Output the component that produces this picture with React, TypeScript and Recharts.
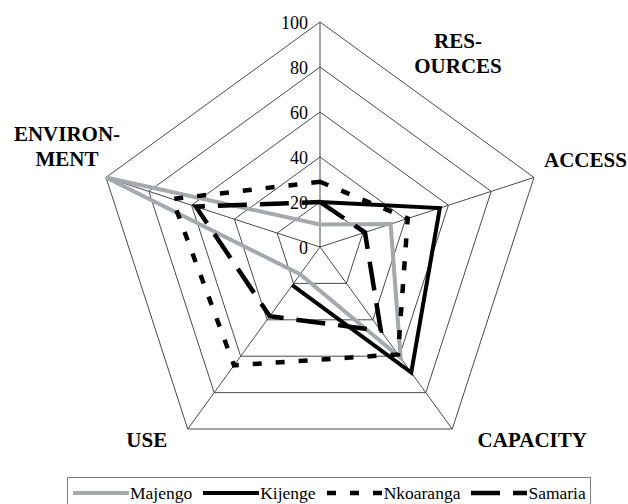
import React from 'react'
import {
  RadarChart,
  Radar,
  PolarGrid,
  PolarAngleAxis,
  PolarRadiusAxis,
  Legend
} from 'recharts'

const categories = ['RESOURCES', 'ACCESS', 'CAPACITY', 'USE', 'ENVIRONMENT']
const categoryLines = [['RES-', 'OURCES'], ['ACCESS'], ['CAPACITY'], ['USE'], ['ENVIRON-', 'MENT']]
const majengo = [10, 33, 61, 15, 100]
const kijenge: (number | null)[] = [20, 56, 69, 21, null] // no ENVIRONMENT value
const nkoaranga = [29, 41, 59, 65, 69]
const samaria = [20, 21, 46, 38, 58]
const radiusTicks = [0, 20, 40, 60, 80, 100]

const data = categories.map((c, i) => ({
  category: c,
  Majengo: majengo[i],
  Kijenge: kijenge[i],
  Nkoaranga: nkoaranga[i],
  Samaria: samaria[i]
}))

const series = [
  { key: 'Majengo', stroke: '#A5A8AC', width: 4, dash: undefined },
  { key: 'Kijenge', stroke: '#000', width: 4, dash: undefined },
  { key: 'Nkoaranga', stroke: '#000', width: 4.5, dash: '9 14' },
  { key: 'Samaria', stroke: '#000', width: 4.5, dash: '29 13' }
]

const serif = '"Liberation Serif", "Times New Roman", serif'

// where Excel put the category labels, relative to each vertex
const labelPlace = [
  { dx: 138, dy: [26, 51], anchor: 'middle' },
  { dx: 10, dy: [-10], anchor: 'start' },
  { dx: 80, dy: [18], anchor: 'middle' },
  { dx: -41, dy: [18], anchor: 'middle' },
  { dx: -39, dy: [-36, -11], anchor: 'middle' }
]

const AngleTick = ({ x, y, payload }: any) => {
  const i = categories.indexOf(payload.value)
  const place = labelPlace[i]
  return (
    <g>
      {categoryLines[i].map((line, k) => (
        <text
          key={k}
          x={x + place.dx}
          y={y + place.dy[k]}
          textAnchor={place.anchor as any}
          fontFamily={serif}
          fontWeight="bold"
          fontSize={21}
          fill="#000"
        >
          {line}
        </text>
      ))}
    </g>
  )
}

const RadiusTick = ({ x, y, payload }: any) => (
  <text x={x - 12} y={y + 7} textAnchor="end" fontFamily={serif} fontSize={18} fill="#000">
    {payload.value}
  </text>
)

// open polyline that leaves a gap where a value is missing
const linePath = (points: any[]) => {
  const ok = points.map(
    p => p.value != null && Number.isFinite(p.x) && Number.isFinite(p.y)
  )
  if (ok.every(Boolean)) {
    return points.map((p, i) => `${i ? 'L' : 'M'}${p.x},${p.y}`).join('') + 'Z'
  }
  const n = points.length
  const firstBad = ok.indexOf(false)
  let d = ''
  let pen = false
  for (let k = 1; k <= n; k++) {
    const i = (firstBad + k) % n
    if (!ok[i]) {
      pen = false
      continue
    }
    d += `${pen ? 'L' : 'M'}${points[i].x},${points[i].y}`
    pen = true
  }
  return d
}

const LegendBox = () => (
  <div
    style={{
      boxSizing: 'border-box',
      width: 524,
      height: 28,
      border: '1px solid #808080',
      borderBottom: 'none',
      paddingLeft: 5,
      paddingTop: 5,
      display: 'flex',
      alignItems: 'flex-start',
      gap: 11,
      fontFamily: serif,
      fontSize: 17.5,
      lineHeight: '20px',
      color: '#000'
    }}
  >
    {series.map(s => (
      <div key={s.key} style={{ display: 'flex', alignItems: 'center', height: 20 }}>
        <svg width={56} height={10} style={{ display: 'block' }}>
          <line
            x1={0}
            y1={5}
            x2={56}
            y2={5}
            stroke={s.stroke}
            strokeWidth={s.width}
            strokeDasharray={s.dash}
          />
        </svg>
        <span style={{ marginLeft: 1 }}>{s.key}</span>
      </div>
    ))}
  </div>
)

export default function App() {
  return (
    <div style={{ position: 'absolute', left: 0, top: 0, width: 628, height: 504, overflow: 'hidden', background: '#fff' }}>
      <RadarChart
        width={628}
        height={504}
        data={data}
        cx={320}
        cy={247}
        outerRadius={225}
        margin={{ top: 0, right: 0, bottom: 0, left: 0 }}
      >
        <PolarGrid gridType="polygon" stroke="#4a4a4a" strokeWidth={1} />
        <PolarAngleAxis
          dataKey="category"
          tick={<AngleTick />}
          tickLine={false}
          axisLine={false}
          tickSize={0.01}
        />
        <PolarRadiusAxis
          angle={90}
          domain={[0, 100]}
          ticks={radiusTicks as any}
          tick={<RadiusTick />}
          tickLine={false}
          axisLine={false}
        />
        {series.map(s => (
          <Radar
            key={s.key}
            name={s.key}
            dataKey={s.key}
            isAnimationActive={false}
            dot={false}
            shape={(p: any) => (
              <path
                d={linePath(p.points)}
                fill="none"
                stroke={s.stroke}
                strokeWidth={s.width}
                strokeDasharray={s.dash}
                strokeLinejoin="miter"
              />
            )}
          />
        ))}
        <Legend
          content={() => <LegendBox />}
          wrapperStyle={{ position: 'absolute', left: 67, top: 477, bottom: 'auto', width: 524, height: 28 }}
        />
      </RadarChart>
    </div>
  )
}
